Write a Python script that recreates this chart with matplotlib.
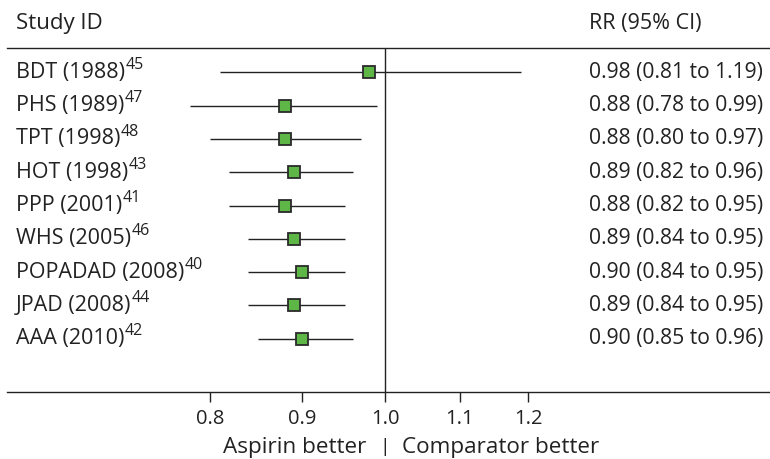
import numpy as np
import matplotlib
matplotlib.use("Agg")
import matplotlib.pyplot as plt

plt.rcParams['font.family'] = ['Open Sans', 'DejaVu Sans']

# Dati
studies = ['BDT (1988)', 'PHS (1989)', 'TPT (1998)', 'HOT (1998)', 'PPP (2001)',
           'WHS (2005)', 'POPADAD (2008)', 'JPAD (2008)', 'AAA (2010)']
refs = ['45', '47', '48', '43', '41', '46', '40', '44', '42']
rr = np.array([0.98, 0.88, 0.88, 0.89, 0.88, 0.89, 0.90, 0.89, 0.90])
lo = np.array([0.81, 0.78, 0.80, 0.82, 0.82, 0.84, 0.84, 0.84, 0.85])
hi = np.array([1.19, 0.99, 0.97, 0.96, 0.95, 0.95, 0.95, 0.95, 0.96])
ticks = [0.8, 0.9, 1.0, 1.1, 1.2]

W, H = 770, 459
COL = '#222222'
fig = plt.figure(figsize=(W/100, H/100), dpi=100)
# asse dalla linea in alto (y=48) alla linea in basso (y=392)
ax = fig.add_axes([7/W, (H-392)/H, 763/W, (392-48)/H])

y = np.arange(len(studies))
ax.set_xscale('log')
ax.set_xlim(np.exp(-378/784), np.exp(385/784))
ax.set_ylim(len(studies) - 1 + 53.3/33.33, -24.3/33.33)

ax.hlines(y, lo, hi, color=COL, lw=1.0, zorder=2)
ax.plot(rr, y, 's', ms=8.6, mfc='#5db645', mec='#2a2a2a', mew=1.3, ls='', zorder=3)
ax.axvline(1.0, color=COL, lw=1.0, zorder=1)

for s in ['left', 'right']:
    ax.spines[s].set_visible(False)
for s in ['top', 'bottom']:
    ax.spines[s].set_linewidth(1.0)
    ax.spines[s].set_color(COL)
ax.set_yticks([])
ax.set_xticks(ticks)
ax.set_xticks([], minor=True)
ax.set_xticklabels(['%.1f' % t for t in ticks], fontsize=14.5, color=COL)
ax.tick_params(axis='x', direction='out', length=7, width=1.0, pad=5, color=COL)

tr = ax.get_yaxis_transform()
for i in range(len(studies)):
    lab = ax.text(9/763, y[i], studies[i], transform=tr,
                  ha='left', va='center', fontsize=15.5, color=COL)
    # apice con il numero del riferimento
    ax.annotate(refs[i], xy=(1.0, 0.62), xycoords=lab, xytext=(0.5, 3.5),
                textcoords='offset points', ha='left', va='center',
                fontsize=11.5, color=COL)
    ax.text(582/763, y[i], '%.2f (%.2f to %.2f)' % (rr[i], lo[i], hi[i]), transform=tr,
            ha='left', va='center', fontsize=15.2, color=COL)

fig.text(16/W, 1 - 24/H, 'Study ID', ha='left', va='center', fontsize=16, color=COL)
fig.text(589/W, 1 - 24/H, 'RR (95% CI)', ha='left', va='center', fontsize=15.5, color=COL)

bt = ax.get_xaxis_transform()
yb = -55/344
ax.text(1.0, yb, '|', transform=bt, ha='center', va='center', fontsize=14, color=COL)
ax.text(0.977, yb, 'Aspirin better', transform=bt, ha='right', va='center', fontsize=16.2, color=COL)
ax.text(1.022, yb, 'Comparator better', transform=bt, ha='left', va='center', fontsize=16.2, color=COL)

fig.savefig('out.png', dpi=100)
